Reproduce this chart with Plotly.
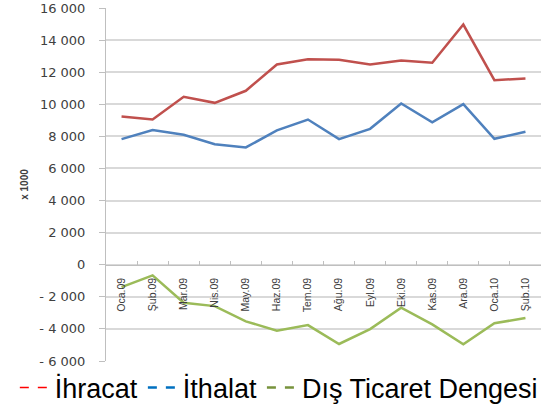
import plotly.graph_objects as go

months = ["Oca.09", "Şub.09", "Mar.09", "Nis.09", "May.09", "Haz.09", "Tem.09",
          "Ağu.09", "Eyl.09", "Eki.09", "Kas.09", "Ara.09", "Oca.10", "Şub.10"]
ihracat = [9240, 9050, 10470, 10090, 10840, 12480, 12810, 12770, 12480, 12730, 12590, 14970, 11500, 11610]
ithalat = [7830, 8390, 8100, 7510, 7310, 8370, 9050, 7830, 8470, 10050, 8870, 10010, 7850, 8290]
denge = [-1400, -660, -2370, -2580, -3530, -4110, -3760, -4940, -4010, -2680, -3720, -4960, -3650, -3320]

y_tickvals = [-6000, -4000, -2000, 0, 2000, 4000, 6000, 8000, 10000, 12000, 14000, 16000]
y_ticktext = ["- 6 000", "- 4 000", "- 2 000", "0", "2 000", "4 000", "6 000", "8 000",
              "10 000", "12 000", "14 000", "16 000"]

series = [
    ("İhracat", ihracat, "#C0504D", "#FF0000", 1.5),
    ("İthalat", ithalat, "#4F81BD", "#0070C0", 2.5),
    ("Dış Ticaret Dengesi", denge, "#9BBB59", "#77933C", 2.5),
]

fig = go.Figure()
for name, vals, col, lcol, lw in series:
    fig.add_trace(go.Scatter(x=months, y=vals, mode="lines", name=name,
                             line=dict(color=col, width=2.5), showlegend=False,
                             hoverinfo="x+y"))
for name, vals, col, lcol, lw in series:
    fig.add_trace(go.Scatter(x=[None], y=[None], mode="lines", name=name,
                             line=dict(color=lcol, width=lw, dash="dash"),
                             showlegend=True))

ymin, ymax = -6000, 16000
zero_pos = (0 - ymin) / (ymax - ymin)

W, H = 549, 408
ml, mr = 4, 8
plot_left = 106
x_dom0 = (plot_left - ml) / (W - ml - mr)

fig.update_layout(
    width=W, height=H,
    margin=dict(l=ml, r=mr, t=8, b=47, autoexpand=False),
    plot_bgcolor="white", paper_bgcolor="white",
    font=dict(family="Liberation Sans, Arial, sans-serif", color="#404040"),
    legend=dict(orientation="h", xref="container", yref="container",
                x=0.027, y=0.049, xanchor="left", yanchor="middle",
                font=dict(size=27, color="black", family="Liberation Sans, Arial, sans-serif"),
                itemwidth=30, tracegroupgap=0, bgcolor="rgba(0,0,0,0)",
                borderwidth=0),
    xaxis=dict(type="category", domain=[x_dom0, 1], anchor="free", position=zero_pos,
               showline=True, linecolor="#BFBFBF", linewidth=1,
               ticks="inside", ticklen=4, tickcolor="#BFBFBF",
               tickson="boundaries", tickangle=-90, ticklabelstandoff=8,
               tickfont=dict(size=10.5, family="Liberation Sans, Arial, sans-serif",
                             color="#404040"),
               showgrid=False, zeroline=False, range=[-0.5, 13.5]),
    yaxis=dict(range=[ymin, ymax], tickvals=y_tickvals, ticktext=y_ticktext,
               showline=True, linecolor="#BFBFBF", linewidth=1,
               ticks="outside", ticklen=6, tickcolor="#BFBFBF", ticklabelstandoff=11,
               ticklabeloverflow="allow",
               showgrid=True, gridcolor="#D9D9D9", gridwidth=1.5,
               zeroline=False,
               tickfont=dict(size=13, family="DejaVu Sans, sans-serif", color="#404040"),
               title=dict(text="<b>x 1000</b>", font=dict(size=10, color="#404040"),
                          standoff=8)),
)

fig.write_html(
    "out.html",
    config={"displayModeBar": False},
    post_script="document.documentElement.style.margin='0';"
                "document.body.style.margin='0';"
                "document.body.style.overflow='hidden';",
)
